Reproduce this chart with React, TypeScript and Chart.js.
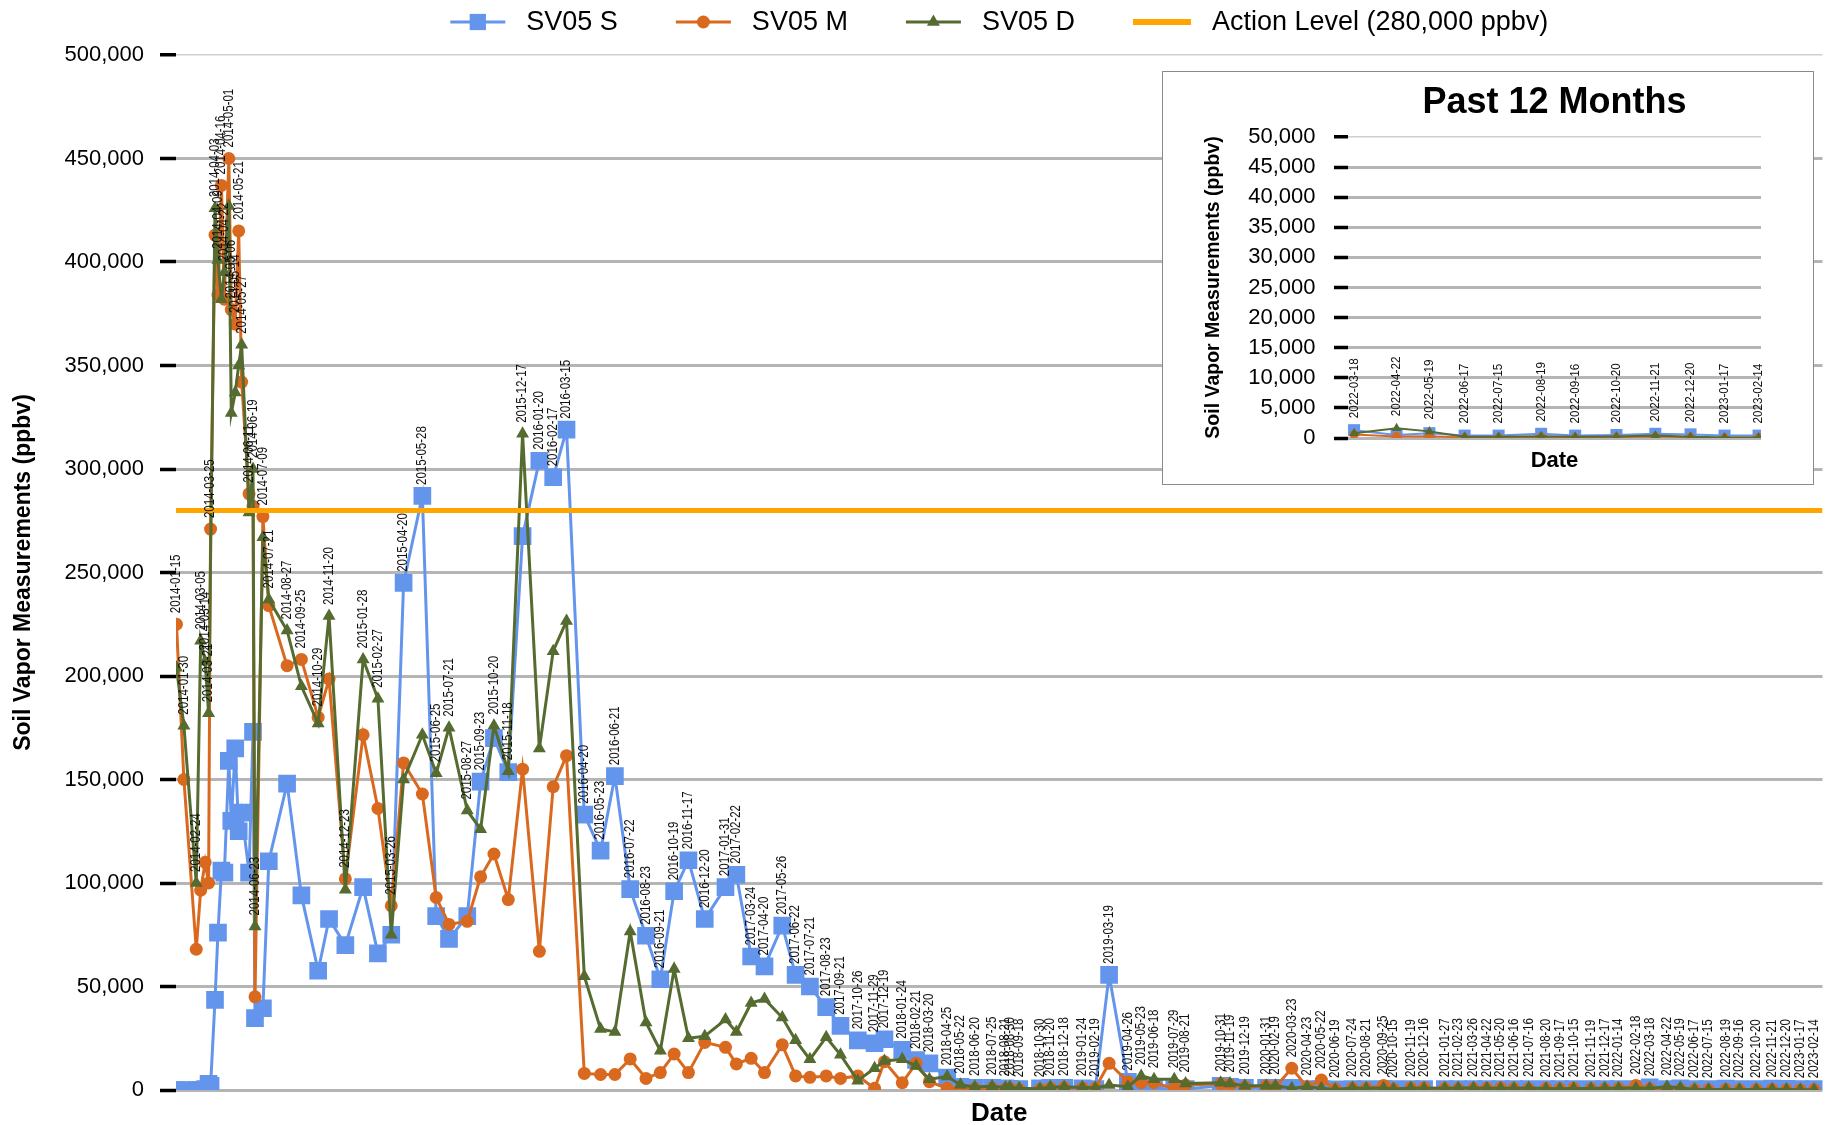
import React, { useEffect, useRef } from 'react';
import { Chart, registerables } from 'chart.js';

Chart.register(...registerables);

// ---------------- DATA ----------------
const dates: string[] = [
  '2014-01-15', '2014-01-30', '2014-02-24', '2014-03-05', '2014-03-14', '2014-03-21', '2014-03-25',
  '2014-04-03', '2014-04-09', '2014-04-16', '2014-04-22', '2014-05-01', '2014-05-06', '2014-05-14',
  '2014-05-21', '2014-05-27', '2014-06-11', '2014-06-19', '2014-06-23', '2014-07-09', '2014-07-21',
  '2014-08-27', '2014-09-25', '2014-10-29', '2014-11-20', '2014-12-23',
  '2015-01-28', '2015-02-27', '2015-03-26', '2015-04-20', '2015-05-28', '2015-06-25', '2015-07-21',
  '2015-08-27', '2015-09-23', '2015-10-20', '2015-11-18', '2015-12-17',
  '2016-01-20', '2016-02-17', '2016-03-15', '2016-04-20', '2016-05-23', '2016-06-21', '2016-07-22',
  '2016-08-23', '2016-09-21', '2016-10-19', '2016-11-17', '2016-12-20',
  '2017-01-31', '2017-02-22', '2017-03-24', '2017-04-20', '2017-05-26', '2017-06-22', '2017-07-21',
  '2017-08-23', '2017-09-21', '2017-10-26', '2017-11-29', '2017-12-19',
  '2018-01-24', '2018-02-21', '2018-03-20', '2018-04-25', '2018-05-22', '2018-06-20', '2018-07-25',
  '2018-08-21', '2018-08-30', '2018-09-18', '2018-10-30', '2018-11-20', '2018-12-18',
  '2019-01-24', '2019-02-19', '2019-03-19', '2019-04-26', '2019-05-23', '2019-06-18', '2019-07-29',
  '2019-08-21', '2019-10-31', '2019-11-19', '2019-12-19',
  '2020-01-31', '2020-02-19', '2020-03-23', '2020-04-23', '2020-05-22', '2020-06-19', '2020-07-24',
  '2020-08-21', '2020-09-25', '2020-10-15', '2020-11-19', '2020-12-16',
  '2021-01-27', '2021-02-23', '2021-03-26', '2021-04-22', '2021-05-20', '2021-06-16', '2021-07-16',
  '2021-08-20', '2021-09-17', '2021-10-15', '2021-11-19', '2021-12-17',
  '2022-01-14', '2022-02-18', '2022-03-18', '2022-04-22', '2022-05-19', '2022-06-17', '2022-07-15',
  '2022-08-19', '2022-09-16', '2022-10-20', '2022-11-21', '2022-12-20',
  '2023-01-17', '2023-02-14',
];

const sv05S: (number | null)[] = [
  0, 0, 0, 0, 500, 3000, 2000,
  43500, 76000, 106000, 105000, 159000, 130000, 165000,
  125000, 134000, 105000, 173000, 34700, 39500, 110500,
  148000, 94000, 57600, 82600, 70000,
  98000, 66000, 75000, 245000, 287000, 84000, 73000,
  84000, 149000, 170000, 153600, 267600,
  304000, 296000, 319000, 133000, 115600, 151600, 97000,
  74500, 53500, 96000, 111000, 82600,
  98000, 104000, 64500, 59700, 79400, 55600, 50000,
  40000, 31000, 24000, 22600, 24500,
  19400, 14500, 12900, 6000, 1500, 1000, 1000,
  800, 600, 500, 800, 1000, 1000,
  800, 500, 55600, 4000, 800, 800, 500,
  500, 2000, 1500, 1000,
  1000, 1000, 1000, 500, 500, 300, 500,
  500, 500, 500, 500, 500,
  500, 500, 500, 500, 500, 500, 500,
  500, 500, 500, 500, 500,
  500, 500, 1300, 500, 800, 400, 400,
  700, 400, 500, 700, 600,
  400, 400,
];

const sv05M: (number | null)[] = [
  225000, 150000, 68000, 96500, 110000, 100000, 271000,
  413000, 384000, 437000, 382000, 450000, 377000, 370000,
  415000, 342000, 288000, 282000, 45000, 277000, 234000,
  205000, 208000, 180000, 198500, 102000,
  171600, 136000, 89000, 158000, 143000, 93000, 80000,
  81500, 103000, 114000, 92000, 155000,
  67000, 146500, 161500, 8000, 7500, 7500, 15000,
  5600, 8400, 17400, 8400, 23000,
  20600, 12600, 15300, 8400, 21800, 6800, 6100,
  6800, 5600, 6800, 800, 13700,
  3500, 12900, 4000, 800, 500, 800, 1000,
  500, 800, 300, 300, 1000, 1200,
  1000, 800, 12900, 4000, 3500, 3500, 800,
  2400, 3000, 2500, 1500,
  2000, 1500, 10500, 1500, 4800, 500, 800,
  800, 2200, 500, 1000, 1000,
  700, 500, 700, 800, 1000, 700, 600,
  700, 500, 800, 600, 500,
  700, 2200, 600, 250, 300, 100, 100,
  200, 100, 150, 250, 150,
  50, 100,
];

const sv05D: (number | null)[] = [
  204000, 176000, 100000, 217000, 207000, 182000, null,
  426000, 401000, 382000, 395000, 427000, 327000, 337000,
  350000, 360000, 279000, 300000, 79000, 267000, 237000,
  222000, 195000, 177000, 229000, 96700,
  208000, 189000, 75000, 150000, 171600, 153000, 175000,
  135000, 126000, 176000, 154000, 317000,
  165000, 212000, 226600, 55000, 29500, 28000, 76600,
  32600, 19000, 58400, 25000, 26000,
  34000, 28000, 42000, 44000, 35000, 24000, 14800,
  25500, 17000, 4500, 10500, 14000,
  14800, 11600, 5200, 6500, 2500, 1500, 1800,
  1200, 1500, 800, 600, 1500, 1500,
  1300, 1000, 2400, 1600, 6800, 5200, 5200,
  3200, 3500, 3200, 2000,
  2000, 2000, 800, 1600, 800, 300, 1000,
  800, 1000, 500, 1000, 800,
  900, 1000, 1000, 900, 900, 800, 1000,
  700, 600, 700, 700, 900,
  800, 1000, 800, 1600, 1100, 200, 200,
  300, 200, 250, 400, 200,
  100, 100,
];

const ACTION_LEVEL = 280000;
const MAIN_Y_MAX = 500000;
const MAIN_Y_STEP = 50000;
const INSET_Y_MAX = 50000;
const INSET_Y_STEP = 5000;
const INSET_COUNT = 12;

const seriesNames = ['SV05 S', 'SV05 M', 'SV05 D', 'Action Level (280,000 ppbv)'];

// ---------------- STYLE ----------------
const BLUE = '#6495ED';
const ORANGE = '#D9691E';
const GREEN = '#556B2F';
const ACTION = '#FFA500';
const FONT = "'Liberation Sans', Arial, Helvetica, sans-serif";

const toDay = (s: string) =>
  Date.UTC(+s.slice(0, 4), +s.slice(5, 7) - 1, +s.slice(8, 10)) / 86400000;

const fmt = (v: number) => Math.round(v).toLocaleString('en-US');

function pointLabelPlugin(id: string, ds: string[], series: (number | null)[][], fontPx: number, squeeze: number, offset: number) {
  return {
    id,
    afterDatasetsDraw(chart: any) {
      const { ctx, scales } = chart;
      ctx.save();
      ctx.font = `${fontPx}px ${FONT}`;
      ctx.fillStyle = '#111';
      ctx.textAlign = 'left';
      ctx.textBaseline = 'middle';
      ds.forEach((d, i) => {
        const vals = series.map((s) => s[i]).filter((v) => v !== null && v !== undefined) as number[];
        if (!vals.length) return;
        const mx = Math.max(...vals);
        const px = scales.x.getPixelForValue(toDay(d));
        const py = scales.y.getPixelForValue(mx);
        ctx.save();
        ctx.translate(px, py - offset);
        ctx.rotate(-Math.PI / 2);
        ctx.scale(squeeze, 1);
        ctx.fillText(d, 0, 0);
        ctx.restore();
      });
      ctx.restore();
    },
  };
}

function drawMarker(ctx: CanvasRenderingContext2D, style: string, x: number, y: number, r: number, color: string) {
  ctx.fillStyle = color;
  ctx.beginPath();
  if (style === 'rect') {
    const s = r * Math.SQRT1_2;
    ctx.rect(x - s, y - s, 2 * s, 2 * s);
  } else if (style === 'circle') {
    ctx.arc(x, y, r, 0, Math.PI * 2);
  } else if (style === 'triangle') {
    let rad = 0;
    ctx.moveTo(x + Math.sin(rad) * r, y - Math.cos(rad) * r);
    rad += (2 * Math.PI) / 3;
    ctx.lineTo(x + Math.sin(rad) * r, y - Math.cos(rad) * r);
    rad += (2 * Math.PI) / 3;
    ctx.lineTo(x + Math.sin(rad) * r, y - Math.cos(rad) * r);
    ctx.closePath();
  }
  ctx.fill();
}

const legendPlugin = {
  id: 'customLegend',
  afterDraw(chart: any) {
    const { ctx, chartArea } = chart;
    const items = [
      { label: seriesNames[0], color: BLUE, style: 'rect', r: 11.5, lw: 3, len: 55 },
      { label: seriesNames[1], color: ORANGE, style: 'circle', r: 6.5, lw: 3, len: 55 },
      { label: seriesNames[2], color: GREEN, style: 'triangle', r: 7.5, lw: 3, len: 55 },
      { label: seriesNames[3], color: ACTION, style: 'none', r: 0, lw: 6, len: 58 },
    ];
    ctx.save();
    ctx.font = `27px ${FONT}`;
    const gapText = 21;
    const gapItem = 58;
    const widths = items.map((it) => ctx.measureText(it.label).width);
    let total = 0;
    items.forEach((it, i) => {
      total += it.len + gapText + widths[i];
      if (i < items.length - 1) total += gapItem;
    });
    const cx = (chartArea.left + chartArea.right) / 2;
    let x = cx - total / 2;
    const y = 22;
    items.forEach((it, i) => {
      ctx.strokeStyle = it.color;
      ctx.lineWidth = it.lw;
      ctx.beginPath();
      ctx.moveTo(x, y);
      ctx.lineTo(x + it.len, y);
      ctx.stroke();
      if (it.style !== 'none') drawMarker(ctx, it.style, x + it.len / 2, y, it.r, it.color);
      ctx.fillStyle = '#000';
      ctx.textAlign = 'left';
      ctx.textBaseline = 'middle';
      ctx.fillText(it.label, x + it.len + gapText, y + 1);
      x += it.len + gapText + widths[i] + gapItem;
    });
    ctx.restore();
  },
};

const insetTitlePlugin = {
  id: 'insetTitle',
  afterDraw(chart: any) {
    const { ctx, chartArea } = chart;
    ctx.save();
    ctx.font = `bold 36px ${FONT}`;
    ctx.fillStyle = '#000';
    ctx.textAlign = 'center';
    ctx.textBaseline = 'middle';
    ctx.fillText('Past 12 Months', (chartArea.left + chartArea.right) / 2, 31);
    ctx.restore();
  },
};

function buildDatasets(ds: string[], s: (number | null)[], m: (number | null)[], d: (number | null)[], big: boolean, xMin: number, xMax: number, withAction: boolean) {
  const pts = (arr: (number | null)[]) => ds.map((dt, i) => ({ x: toDay(dt), y: arr[i] }));
  const lw = big ? 3 : 2;
  const sets: any[] = [
    { label: seriesNames[0], data: pts(s), borderColor: BLUE, backgroundColor: BLUE, pointBackgroundColor: BLUE, pointBorderColor: BLUE, pointStyle: 'rect', pointRadius: big ? 12.5 : 8.5, pointBorderWidth: 0, borderWidth: lw, order: 4, spanGaps: true },
    { label: seriesNames[1], data: pts(m), borderColor: ORANGE, backgroundColor: ORANGE, pointBackgroundColor: ORANGE, pointBorderColor: ORANGE, pointStyle: 'circle', pointRadius: big ? 6.5 : 4.5, pointBorderWidth: 0, borderWidth: lw, order: 3, spanGaps: true },
    { label: seriesNames[2], data: pts(d), borderColor: GREEN, backgroundColor: GREEN, pointBackgroundColor: GREEN, pointBorderColor: GREEN, pointStyle: 'triangle', pointRadius: big ? 7.5 : 5.5, pointBorderWidth: 0, borderWidth: lw, order: 2, spanGaps: true },
  ];
  if (withAction) {
    sets.push({ label: seriesNames[3], data: [{ x: xMin, y: ACTION_LEVEL }, { x: xMax, y: ACTION_LEVEL }], borderColor: ACTION, backgroundColor: ACTION, borderWidth: 5, pointRadius: 0, order: 1 });
  }
  return sets;
}

export default function App() {
  const mainRef = useRef<HTMLCanvasElement>(null);
  const insetRef = useRef<HTMLCanvasElement>(null);

  useEffect(() => {
    const first = toDay(dates[0]);
    const last = toDay(dates[dates.length - 1]);
    const xMin = first - 1;
    const xMax = last + 17;

    const main = new Chart(mainRef.current as HTMLCanvasElement, {
      type: 'line',
      data: { datasets: buildDatasets(dates, sv05S, sv05M, sv05D, true, xMin, xMax, true) },
      options: {
        animation: false,
        responsive: false,
        maintainAspectRatio: false,
        layout: { padding: { top: 55, left: 0, right: 0, bottom: 0 } },
        plugins: { legend: { display: false }, tooltip: { enabled: false }, title: { display: false } },
        scales: {
          x: {
            type: 'linear',
            min: xMin,
            max: xMax,
            ticks: { display: false },
            grid: { display: false },
            border: { display: false },
            title: { display: true, text: 'Date', color: '#000', font: { family: FONT, size: 26, weight: 'bold', lineHeight: 0.85 }, padding: { top: 0, bottom: 0 } },
            afterFit: (s: any) => { s.height = 35; },
          },
          y: {
            min: 0,
            max: MAIN_Y_MAX,
            ticks: { stepSize: MAIN_Y_STEP, color: '#000', font: { family: FONT, size: 22 }, padding: 16, callback: (v: any) => fmt(Number(v)) },
            grid: {
              color: (c: any) => (c.tick && c.tick.value === MAIN_Y_MAX ? '#cfcfcf' : '#b5b5b5'),
              lineWidth: (c: any) => (c.tick && c.tick.value === MAIN_Y_MAX ? 1.5 : 3),
              tickColor: '#000',
              tickWidth: 3.5,
              tickLength: 16,
              drawTicks: true,
            },
            border: { display: false },
            title: { display: true, text: 'Soil Vapor Measurements (ppbv)', color: '#000', font: { family: FONT, size: 23, weight: 'bold', lineHeight: 1.2 }, padding: { top: 10, bottom: 0 } },
            afterFit: (s: any) => { s.width = 176; },
          },
        },
      } as any,
      plugins: [legendPlugin, pointLabelPlugin('mainLabels', dates, [sv05S, sv05M, sv05D], 14, 0.82, 11)],
    });

    const iDates = dates.slice(-INSET_COUNT);
    const iS = sv05S.slice(-INSET_COUNT);
    const iM = sv05M.slice(-INSET_COUNT);
    const iD = sv05D.slice(-INSET_COUNT);
    const ixMin = toDay(iDates[0]) - 5;
    const ixMax = toDay(iDates[iDates.length - 1]) + 2;

    const inset = new Chart(insetRef.current as HTMLCanvasElement, {
      type: 'line',
      data: { datasets: buildDatasets(iDates, iS, iM, iD, false, ixMin, ixMax, false) },
      options: {
        animation: false,
        responsive: false,
        maintainAspectRatio: false,
        layout: { padding: { top: 65, left: 0, right: 52, bottom: 0 } },
        plugins: { legend: { display: false }, tooltip: { enabled: false }, title: { display: false } },
        scales: {
          x: {
            type: 'linear',
            min: ixMin,
            max: ixMax,
            ticks: { display: false },
            grid: { display: false },
            border: { display: false },
            title: { display: true, text: 'Date', color: '#000', font: { family: FONT, size: 22, weight: 'bold', lineHeight: 1 }, padding: { top: 0, bottom: 12 } },
            afterFit: (s: any) => { s.height = 46; },
          },
          y: {
            min: 0,
            max: INSET_Y_MAX,
            ticks: { stepSize: INSET_Y_STEP, color: '#000', font: { family: FONT, size: 22 }, padding: 18.5, callback: (v: any) => fmt(Number(v)) },
            grid: {
              color: (c: any) => (c.tick && c.tick.value === INSET_Y_MAX ? '#cfcfcf' : '#b5b5b5'),
              lineWidth: (c: any) => (c.tick && c.tick.value === INSET_Y_MAX ? 1.5 : 3),
              tickColor: '#000',
              tickWidth: 3.5,
              tickLength: 14,
              drawTicks: true,
            },
            border: { display: false },
            title: { display: true, text: 'Soil Vapor Measurements (ppbv)', color: '#000', font: { family: FONT, size: 19.5, weight: 'bold', lineHeight: 1.2 }, padding: { top: 39, bottom: 0 } },
            afterFit: (s: any) => { s.width = 185; },
          },
        },
      } as any,
      plugins: [insetTitlePlugin, pointLabelPlugin('insetLabels', iDates, [iS, iM, iD], 13, 0.9, 12)],
    });

    return () => {
      main.destroy();
      inset.destroy();
    };
  }, []);

  return (
    <div style={{ position: 'absolute', left: 0, top: 0, width: 1835, height: 1125, background: '#fff', overflow: 'hidden' }}>
      <canvas ref={mainRef} width={1835} height={1125} style={{ position: 'absolute', left: 0, top: 0, width: 1835, height: 1125 }} />
      <div style={{ position: 'absolute', left: 1162, top: 71, width: 652, height: 414, border: '1px solid #8a8a8a', boxSizing: 'border-box', background: '#fff' }}>
        <canvas ref={insetRef} width={650} height={412} style={{ display: 'block', width: 650, height: 412 }} />
      </div>
    </div>
  );
}
